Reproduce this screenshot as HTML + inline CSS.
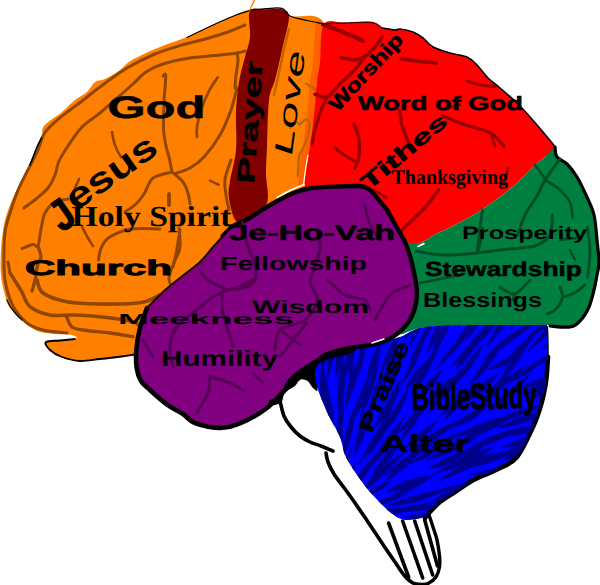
<!DOCTYPE html>
<html>
<head>
<meta charset="utf-8">
<title>Brain</title>
<style>
html,body{margin:0;padding:0;background:#fff;}
body{width:600px;height:585px;overflow:hidden;font-family:"Liberation Sans",sans-serif;}
svg{display:block;}
text{font-family:"Liberation Sans",sans-serif;fill:#000;text-rendering:geometricPrecision;}
.b{font-weight:bold;}
.s{font-family:"Liberation Serif",serif;}
.k{stroke:#000;stroke-width:0.5;}
.k2{stroke:#000;stroke-width:0.9;}
</style>
</head>
<body>
<svg width="600" height="585" viewBox="0 0 600 585">
<rect width="600" height="585" fill="#fff"/>
<!-- brain stem -->
<path d="M283.0,392.0 L280.0,402.0 L285.0,417.0 L295.0,432.0 L310.0,444.0 L326.0,453.0 L328.0,462.0 L334.0,474.0 L345.0,489.0 L365.0,517.5 L385.0,547.5 L404.0,575.0 L418.0,584.0 L428.0,583.0 L437.0,575.0 L439.0,560.0 L437.0,540.0 L430.0,517.0 L400.0,500.0 L350.0,440.0 L317.0,390.0 L300.0,380.0 Z" fill="#fff"/>
<path d="M280.0,401.0 C280.7,403.5 282.2,411.7 284.0,416.0 C285.8,420.3 288.3,423.7 291.0,427.0 C293.7,430.3 296.8,433.5 300.0,436.0 C303.2,438.5 306.5,440.3 310.0,442.0 C313.5,443.7 317.2,444.5 321.0,446.0 C324.8,447.5 331.0,450.2 333.0,451.0" fill="none" stroke="#000" stroke-width="3.6" stroke-linecap="round" stroke-linejoin="round" />
<path d="M326.0,453.0 C326.3,454.5 326.7,458.5 328.0,462.0 C329.3,465.5 331.2,469.5 334.0,474.0 C336.8,478.5 341.5,484.2 345.0,489.0 C348.5,493.8 351.7,498.2 355.0,503.0 C358.3,507.8 361.7,512.6 365.0,517.5 C368.3,522.4 371.7,527.5 375.0,532.5 C378.3,537.5 381.7,542.6 385.0,547.5 C388.3,552.4 391.8,557.4 395.0,562.0 C398.2,566.6 401.2,571.6 404.0,575.0 C406.8,578.4 409.3,580.9 412.0,582.5 C414.7,584.1 418.7,584.2 420.0,584.5" fill="none" stroke="#000" stroke-width="3.6" stroke-linecap="round" stroke-linejoin="round" />
<path d="M420.0,584.5 C421.3,584.3 425.3,584.8 428.0,583.5 C430.7,582.2 434.1,579.8 436.0,577.0 C437.9,574.2 438.9,570.5 439.5,567.0 C440.1,563.5 439.9,560.5 439.5,556.0 C439.1,551.5 438.1,544.8 437.0,540.0 C435.9,535.2 434.3,531.2 433.0,527.0 C431.7,522.8 429.7,517.0 429.0,515.0" fill="none" stroke="#000" stroke-width="3.4" stroke-linecap="round" stroke-linejoin="round" />
<path d="M388.6,523.0 C391.9,532.0 405.3,568.0 408.6,577.0" fill="none" stroke="#000" stroke-width="3.6" stroke-linecap="round" stroke-linejoin="round" />
<path d="M402.6,521.0 C406.0,530.5 419.4,568.5 422.7,578.0" fill="none" stroke="#000" stroke-width="3.6" stroke-linecap="round" stroke-linejoin="round" />
<path d="M414.7,521.0 C417.7,530.0 429.7,566.0 432.7,575.0" fill="none" stroke="#000" stroke-width="3.6" stroke-linecap="round" stroke-linejoin="round" />
<path d="M424.7,520.0 C426.8,527.7 435.4,558.3 437.5,566.0" fill="none" stroke="#000" stroke-width="3.6" stroke-linecap="round" stroke-linejoin="round" />
<!-- orange -->
<path d="M250.0,10.0 C242.2,11.0 241.3,12.5 235.0,15.0 C228.7,17.5 220.0,21.3 212.0,25.0 C204.0,28.7 195.7,33.3 187.0,37.0 C178.3,40.7 169.2,43.2 160.0,47.0 C150.8,50.8 138.7,56.2 132.0,60.0 C125.3,63.8 124.5,66.8 120.0,70.0 C115.5,73.2 109.2,77.0 105.0,79.0 C100.8,81.0 98.0,79.8 95.0,82.0 C92.0,84.2 90.3,89.0 87.0,92.0 C83.7,95.0 79.2,96.7 75.0,100.0 C70.8,103.3 67.2,107.7 62.0,112.0 C56.8,116.3 47.3,121.8 44.0,126.0 C40.7,130.2 43.2,133.5 42.0,137.0 C40.8,140.5 39.0,142.3 37.0,147.0 C35.0,151.7 33.0,158.7 30.0,165.0 C27.0,171.3 22.3,178.3 19.0,185.0 C15.7,191.7 12.5,198.3 10.0,205.0 C7.5,211.7 5.5,217.5 4.0,225.0 C2.5,232.5 1.5,241.7 1.0,250.0 C0.5,258.3 0.3,267.5 1.0,275.0 C1.7,282.5 3.5,289.5 5.0,295.0 C6.5,300.5 7.2,303.8 10.0,308.0 C12.8,312.2 17.5,316.2 22.0,320.0 C26.5,323.8 31.5,328.7 37.0,331.0 C42.5,333.3 49.2,333.3 55.0,334.0 C60.8,334.7 68.7,334.2 72.0,335.0 C75.3,335.8 79.3,337.8 75.0,339.0 C70.7,340.2 50.2,340.2 46.0,342.0 C41.8,343.8 47.3,347.5 50.0,350.0 C52.7,352.5 57.0,355.2 62.0,357.0 C67.0,358.8 73.7,360.7 80.0,361.0 C86.3,361.3 92.5,359.8 100.0,359.0 C107.5,358.2 118.8,356.8 125.0,356.0 C131.2,355.2 134.5,358.3 137.0,354.0 C139.5,349.7 138.3,337.7 140.0,330.0 C141.7,322.3 143.2,314.3 147.0,308.0 C150.8,301.7 157.5,297.0 163.0,292.0 C168.5,287.0 173.8,283.0 180.0,278.0 C186.2,273.0 194.3,267.3 200.0,262.0 C205.7,256.7 208.8,251.8 214.0,246.0 C219.2,240.2 225.3,231.5 231.0,227.0 C236.7,222.5 242.8,221.8 248.0,219.0 C253.2,216.2 256.8,213.2 262.0,210.0 C267.2,206.8 273.3,203.2 279.0,200.0 C284.7,196.8 290.5,193.3 296.0,191.0 C301.5,188.7 308.3,201.2 312.0,186.0 C315.7,170.8 316.0,127.0 318.0,100.0 C320.0,73.0 328.7,38.0 324.0,24.0 C319.3,10.0 297.0,18.5 290.0,16.0 C283.0,13.5 288.7,10.0 282.0,9.0 C275.3,8.0 257.8,9.0 250.0,10.0 Z" fill="#ff8000"/>
<path d="M75.0,339.0 C72.5,339.2 64.8,340.0 60.0,340.5 C55.2,341.0 47.7,340.4 46.0,342.0 C44.3,343.6 47.3,347.5 50.0,350.0 C52.7,352.5 57.0,355.2 62.0,357.0 C67.0,358.8 73.7,360.7 80.0,361.0 C86.3,361.3 92.5,359.8 100.0,359.0 C107.5,358.2 118.8,356.8 125.0,356.0 C131.2,355.2 135.0,354.3 137.0,354.0" fill="none" stroke="#000" stroke-width="1.8" stroke-linecap="round" stroke-linejoin="round" />
<path d="M245.0,25.0 C242.2,26.2 234.0,29.8 228.0,32.0 C222.0,34.2 216.7,35.8 209.0,38.0 C201.3,40.2 191.0,42.3 182.0,45.0 C173.0,47.7 164.2,50.2 155.0,54.0 C145.8,57.8 136.2,62.5 127.0,68.0 C117.8,73.5 107.5,81.5 100.0,87.0 C92.5,92.5 87.0,97.2 82.0,101.0 C77.0,104.8 74.5,106.5 70.0,110.0 C65.5,113.5 59.3,118.0 55.0,122.0 C50.7,126.0 46.8,129.3 44.0,134.0 C41.2,138.7 40.3,144.7 38.0,150.0 C35.7,155.3 33.2,159.7 30.0,166.0 C26.8,172.3 22.2,180.7 19.0,188.0 C15.8,195.3 13.2,203.2 11.0,210.0 C8.8,216.8 6.7,222.2 5.5,229.0 C4.3,235.8 4.1,242.5 4.0,251.0 C3.9,259.5 3.5,270.8 5.0,280.0 C6.5,289.2 9.3,298.8 13.0,306.0 C16.7,313.2 22.0,319.0 27.0,323.0 C32.0,327.0 36.3,328.3 43.0,330.0 C49.7,331.7 63.0,332.5 67.0,333.0" fill="none" stroke="#904600" stroke-width="3.0" stroke-linecap="round" stroke-linejoin="round" />
<path d="M245.0,51.0 C243.7,51.3 242.0,52.2 237.0,53.0 C232.0,53.8 222.8,54.7 215.0,55.5 C207.2,56.3 198.7,56.6 190.0,58.0 C181.3,59.4 170.3,61.7 163.0,64.0 C155.7,66.3 151.0,68.7 146.0,72.0 C141.0,75.3 138.0,79.5 133.0,84.0 C128.0,88.5 121.5,94.2 116.0,99.0 C110.5,103.8 105.7,108.3 100.0,113.0 C94.3,117.7 87.3,121.5 82.0,127.0 C76.7,132.5 71.8,140.3 68.0,146.0 C64.2,151.7 61.2,156.2 59.0,161.0 C56.8,165.8 56.8,170.5 55.0,175.0 C53.2,179.5 51.2,184.0 48.0,188.0 C44.8,192.0 40.0,195.7 36.0,199.0 C32.0,202.3 26.0,206.5 24.0,208.0" fill="none" stroke="#904600" stroke-width="3.0" stroke-linecap="round" stroke-linejoin="round" />
<path d="M237.0,53.0 C237.2,54.3 238.2,57.3 238.0,61.0 C237.8,64.7 236.5,70.5 236.0,75.0 C235.5,79.5 235.2,85.8 235.0,88.0" fill="none" stroke="#904600" stroke-width="3.0" stroke-linecap="round" stroke-linejoin="round" />
<path d="M163.0,76.0 C163.4,75.8 165.3,72.7 165.6,74.7 C165.9,76.7 165.3,83.5 165.0,88.0 C164.7,92.5 164.2,95.2 164.0,102.0 C163.8,108.8 163.2,121.7 163.5,129.0 C163.8,136.3 165.1,141.3 166.0,146.0 C166.9,150.7 168.0,152.7 169.0,157.0 C170.0,161.3 171.5,169.5 172.0,172.0" fill="none" stroke="#904600" stroke-width="3.0" stroke-linecap="round" stroke-linejoin="round" />
<path d="M217.6,77.4 C216.2,79.7 211.8,85.6 209.0,91.0 C206.2,96.4 203.0,104.0 201.0,110.0 C199.0,116.0 197.7,122.5 197.0,127.0 C196.3,131.5 197.0,135.3 197.0,137.0" fill="none" stroke="#904600" stroke-width="2.7" stroke-linecap="round" stroke-linejoin="round" />
<path d="M237.0,88.0 C236.0,91.7 233.8,102.2 231.0,110.0 C228.2,117.8 224.5,127.2 220.0,135.0 C215.5,142.8 209.0,151.5 204.0,157.0 C199.0,162.5 194.9,165.2 190.0,168.0 C185.1,170.8 177.2,172.8 174.7,173.8" fill="none" stroke="#904600" stroke-width="3.0" stroke-linecap="round" stroke-linejoin="round" />
<path d="M112.0,132.0 C112.3,133.7 113.2,139.0 114.0,142.0 C114.8,145.0 115.8,147.5 117.0,150.0 C118.2,152.5 120.3,155.8 121.0,157.0" fill="none" stroke="#904600" stroke-width="2.7" stroke-linecap="round" stroke-linejoin="round" />
<path d="M79.0,179.0 C78.2,181.0 75.1,187.2 74.0,191.0 C72.9,194.8 72.8,200.2 72.5,202.0" fill="none" stroke="#904600" stroke-width="2.7" stroke-linecap="round" stroke-linejoin="round" />
<path d="M22.0,248.5 C23.8,247.8 30.3,244.9 33.0,244.5 C35.7,244.1 36.7,248.6 38.0,246.0 C39.3,243.4 39.8,234.5 41.0,229.0 C42.2,223.5 42.7,217.5 45.0,213.0 C47.3,208.5 51.2,204.3 55.0,202.0 C58.8,199.7 65.8,199.5 68.0,199.0" fill="none" stroke="#904600" stroke-width="3.0" stroke-linecap="round" stroke-linejoin="round" />
<path d="M38.0,246.0 C38.5,247.8 41.0,254.2 41.0,257.0 C41.0,259.8 39.0,259.2 38.0,263.0 C37.0,266.8 36.0,275.3 35.0,280.0 C34.0,284.7 32.5,289.2 32.0,291.0" fill="none" stroke="#904600" stroke-width="3.3" stroke-linecap="round" stroke-linejoin="round" />
<path d="M172.0,172.0 C168.8,173.0 157.6,174.5 153.0,178.0 C148.4,181.5 147.4,188.7 144.6,193.0 C141.8,197.3 139.3,200.8 136.0,204.0 C132.7,207.2 126.8,210.7 125.0,212.0" fill="none" stroke="#904600" stroke-width="3.0" stroke-linecap="round" stroke-linejoin="round" />
<path d="M172.0,172.0 C173.8,173.7 180.3,178.5 183.0,182.0 C185.7,185.5 186.8,189.3 188.0,193.0 C189.2,196.7 189.7,202.2 190.0,204.0" fill="none" stroke="#904600" stroke-width="3.0" stroke-linecap="round" stroke-linejoin="round" />
<path d="M169.0,194.0 C169.0,195.8 169.0,203.2 169.0,205.0" fill="none" stroke="#904600" stroke-width="3.9" stroke-linecap="round" stroke-linejoin="round" />
<path d="M160.0,229.0 C155.2,229.0 139.5,227.6 131.0,229.0 C122.5,230.4 114.0,234.3 109.0,237.6 C104.0,240.8 102.8,244.8 101.0,248.5 C99.2,252.2 98.9,258.1 98.5,260.0" fill="none" stroke="#904600" stroke-width="3.0" stroke-linecap="round" stroke-linejoin="round" />
<path d="M82.0,226.7 C83.0,228.6 86.2,234.8 88.0,238.0 C89.8,241.2 92.2,244.7 93.0,246.0" fill="none" stroke="#904600" stroke-width="2.7" stroke-linecap="round" stroke-linejoin="round" />
<path d="M179.0,228.5 C179.2,231.7 180.7,242.2 180.0,247.6 C179.3,253.0 176.5,256.0 174.7,261.0 C172.9,266.0 169.4,273.2 169.0,277.7 C168.6,282.2 171.5,286.3 172.0,288.0" fill="none" stroke="#904600" stroke-width="3.0" stroke-linecap="round" stroke-linejoin="round" />
<path d="M231.0,160.0 C230.0,163.2 225.8,173.2 225.0,179.0 C224.2,184.8 225.3,189.8 226.0,195.0 C226.7,200.2 228.5,207.5 229.0,210.0" fill="none" stroke="#904600" stroke-width="3.0" stroke-linecap="round" stroke-linejoin="round" />
<path d="M210.0,180.6 C211.4,181.3 217.1,184.0 218.5,184.7" fill="none" stroke="#904600" stroke-width="2.7" stroke-linecap="round" stroke-linejoin="round" />
<path d="M180.0,230.0 C179.4,233.3 177.9,243.9 176.7,250.0 C175.5,256.1 173.6,263.9 173.0,266.7" fill="none" stroke="#904600" stroke-width="3.0" stroke-linecap="round" stroke-linejoin="round" />
<path d="M37.0,280.0 C38.0,282.2 38.0,289.4 43.0,293.0 C48.0,296.6 57.5,299.9 67.0,301.7 C76.5,303.5 87.8,303.8 100.0,304.0 C112.2,304.2 130.0,304.2 140.0,302.7 C150.0,301.2 156.7,296.3 160.0,295.0" fill="none" stroke="#904600" stroke-width="3.6" stroke-linecap="round" stroke-linejoin="round" />
<path d="M10.0,273.0 C11.2,274.8 15.1,280.9 17.0,284.0 C18.9,287.1 19.5,287.9 21.7,291.7 C23.9,295.5 25.3,302.8 30.0,306.7 C34.7,310.6 42.8,313.6 50.0,315.0 C57.2,316.4 64.7,314.7 73.0,315.0 C81.3,315.3 90.0,315.6 100.0,316.7 C110.0,317.8 126.3,320.0 133.0,321.7 C139.7,323.4 138.8,326.1 140.0,327.0" fill="none" stroke="#904600" stroke-width="3.6" stroke-linecap="round" stroke-linejoin="round" />
<path d="M66.7,316.7 C67.5,318.4 69.0,324.5 71.7,326.7 C74.4,328.9 76.6,328.9 83.0,330.0 C89.4,331.1 101.7,331.9 110.0,333.0 C118.3,334.1 129.2,336.1 133.0,336.7" fill="none" stroke="#904600" stroke-width="3.3" stroke-linecap="round" stroke-linejoin="round" />
<path d="M8.0,262.0 C8.3,263.8 9.7,271.2 10.0,273.0" fill="none" stroke="#904600" stroke-width="3.0" stroke-linecap="round" stroke-linejoin="round" />
<path d="M319.0,24.0 C318.6,30.3 317.4,52.3 316.5,62.0 C315.6,71.7 314.5,73.2 313.5,82.0 C312.5,90.8 311.7,104.3 310.5,115.0 C309.3,125.7 307.8,136.8 306.5,146.0 C305.2,155.2 303.3,163.0 302.5,170.0 C301.7,177.0 301.7,185.0 301.5,188.0" fill="none" stroke="#ff5a00" stroke-width="7" stroke-linecap="round" stroke-linejoin="round" stroke-opacity="0.85"/>
<path d="M289.0,29.0 C288.2,32.4 285.7,42.1 284.0,49.4 C282.3,56.7 280.7,65.4 279.0,73.0 C277.3,80.6 274.8,91.3 274.0,95.0" fill="none" stroke="#c46200" stroke-width="2.4" stroke-linecap="round" stroke-linejoin="round" />
<path d="M299.4,124.7 C300.5,123.8 304.3,119.5 306.0,119.5 C307.7,119.5 309.7,121.0 309.7,124.7 C309.7,128.4 307.7,136.7 306.0,141.8 C304.3,146.9 300.8,149.7 299.4,155.4 C298.0,161.1 298.0,172.6 297.7,176.0" fill="none" stroke="#c46200" stroke-width="2.4" stroke-linecap="round" stroke-linejoin="round" />
<path d="M306.0,83.6 C307.2,84.3 310.7,86.3 313.0,88.0 C315.3,89.7 318.8,93.0 320.0,94.0" fill="none" stroke="#c46200" stroke-width="2.2" stroke-linecap="round" stroke-linejoin="round" />
<path d="M290.0,128.0 C291.0,127.0 294.4,122.5 296.0,122.0 C297.6,121.5 298.8,124.2 299.4,124.7" fill="none" stroke="#c46200" stroke-width="2" stroke-linecap="round" stroke-linejoin="round" />
<!-- dark red -->
<path d="M250.0,11.0 C252.7,6.4 260.7,9.8 266.0,9.5 C271.3,9.2 278.2,8.2 282.0,9.5 C285.8,10.8 289.0,10.2 289.0,17.0 C289.0,23.8 284.3,39.5 282.0,50.0 C279.7,60.5 277.2,71.7 275.0,80.0 C272.8,88.3 270.3,89.0 269.0,100.0 C267.7,111.0 267.5,133.7 267.0,146.0 C266.5,158.3 266.0,164.5 266.0,174.0 C266.0,183.5 269.7,195.7 267.0,203.0 C264.3,210.3 255.2,215.0 250.0,218.0 C244.8,221.0 239.5,224.3 236.0,221.0 C232.5,217.7 230.0,204.7 229.0,198.0 C228.0,191.3 228.8,189.0 230.0,181.0 C231.2,173.0 235.0,161.5 236.0,150.0 C237.0,138.5 235.5,123.3 236.0,112.0 C236.5,100.7 237.5,91.2 239.0,82.0 C240.5,72.8 243.2,64.5 245.0,57.0 C246.8,49.5 249.2,44.7 250.0,37.0 C250.8,29.3 247.3,15.6 250.0,11.0 Z" fill="#800000"/>
<!-- red -->
<path d="M324.0,24.0 C328.2,17.5 337.0,23.3 345.0,23.0 C353.0,22.7 365.8,21.2 372.0,22.0 C378.2,22.8 378.2,26.7 382.0,28.0 C385.8,29.3 392.0,29.8 395.0,30.0 C398.0,30.2 397.0,28.7 400.0,29.0 C403.0,29.3 409.2,30.5 413.0,32.0 C416.8,33.5 419.7,35.5 423.0,38.0 C426.3,40.5 428.5,44.5 433.0,47.0 C437.5,49.5 444.3,51.3 450.0,53.0 C455.7,54.7 462.5,55.0 467.0,57.0 C471.5,59.0 473.5,61.5 477.0,65.0 C480.5,68.5 484.2,74.2 488.0,78.0 C491.8,81.8 495.2,83.8 500.0,88.0 C504.8,92.2 512.0,98.2 517.0,103.0 C522.0,107.8 525.7,112.2 530.0,117.0 C534.3,121.8 538.8,127.0 543.0,132.0 C547.2,137.0 554.7,142.8 555.0,147.0 C555.3,151.2 548.2,154.1 545.0,157.0 C541.8,159.9 539.8,161.0 536.0,164.5 C532.2,168.0 526.7,173.6 522.0,178.0 C517.3,182.4 513.0,186.7 507.7,191.0 C502.4,195.3 496.0,199.8 490.0,204.0 C484.0,208.2 478.5,212.1 471.8,216.0 C465.1,219.9 456.0,224.5 450.0,227.5 C444.0,230.5 441.0,231.4 436.0,234.0 C431.0,236.6 425.2,241.2 420.0,243.0 C414.8,244.8 408.3,245.5 405.0,245.0 C401.7,244.5 402.5,245.0 400.0,240.0 C397.5,235.0 394.5,222.5 390.0,215.0 C385.5,207.5 378.0,199.2 373.0,195.0 C368.0,190.8 365.5,191.5 360.0,190.0 C354.5,188.5 348.0,186.7 340.0,186.0 C332.0,185.3 317.8,186.0 312.0,186.0 C306.2,186.0 306.0,188.7 305.0,186.0 C304.0,183.3 305.2,176.7 306.0,170.0 C306.8,163.3 308.7,155.2 310.0,146.0 C311.3,136.8 312.8,125.7 314.0,115.0 C315.2,104.3 316.0,90.8 317.0,82.0 C318.0,73.2 318.8,71.7 320.0,62.0 C321.2,52.3 319.8,30.5 324.0,24.0 Z" fill="#ff0000"/>
<path d="M382.0,28.0 C384.2,28.3 392.0,29.8 395.0,30.0 C398.0,30.2 397.0,28.7 400.0,29.0 C403.0,29.3 409.2,30.5 413.0,32.0 C416.8,33.5 419.7,35.5 423.0,38.0 C426.3,40.5 428.5,44.5 433.0,47.0 C437.5,49.5 444.3,51.3 450.0,53.0 C455.7,54.7 462.5,55.0 467.0,57.0 C471.5,59.0 473.5,61.5 477.0,65.0 C480.5,68.5 484.2,74.2 488.0,78.0 C491.8,81.8 495.2,83.8 500.0,88.0 C504.8,92.2 512.0,98.2 517.0,103.0 C522.0,107.8 525.7,112.2 530.0,117.0 C534.3,121.8 538.8,127.0 543.0,132.0 C547.2,137.0 553.0,144.5 555.0,147.0" fill="none" stroke="#000" stroke-width="1.6" stroke-linecap="round" stroke-linejoin="round" />
<path d="M323.0,24.6 C326.0,25.7 335.7,29.3 341.0,31.4 C346.3,33.5 351.0,35.4 354.7,37.0 C358.4,38.6 361.6,40.3 363.0,41.0" fill="none" stroke="#990000" stroke-width="4.2" stroke-linecap="round" stroke-linejoin="round" />
<path d="M341.0,57.4 C343.3,57.8 350.6,60.2 354.7,60.0 C358.8,59.8 362.0,58.5 365.6,56.0 C369.2,53.5 373.9,48.2 376.6,45.0 C379.3,41.8 381.1,38.3 382.0,37.0" fill="none" stroke="#990000" stroke-width="3.6" stroke-linecap="round" stroke-linejoin="round" />
<path d="M315.0,94.3 C317.0,94.8 323.2,98.4 327.0,97.0 C330.8,95.6 333.4,90.5 338.0,86.0 C342.6,81.5 350.1,74.7 354.7,69.7 C359.3,64.7 363.8,58.3 365.6,56.0" fill="none" stroke="#990000" stroke-width="3.6" stroke-linecap="round" stroke-linejoin="round" />
<path d="M327.0,97.0 C326.2,98.8 323.8,103.4 322.0,108.0 C320.2,112.6 318.1,118.5 316.4,124.4 C314.7,130.3 312.7,140.3 312.0,143.5" fill="none" stroke="#990000" stroke-width="3.4" stroke-linecap="round" stroke-linejoin="round" />
<path d="M401.0,58.8 C404.2,59.2 414.1,60.8 420.0,61.5 C425.9,62.2 433.9,62.8 436.7,63.0" fill="none" stroke="#990000" stroke-width="3.4" stroke-linecap="round" stroke-linejoin="round" />
<path d="M354.0,124.0 C354.8,126.3 358.0,132.5 358.8,138.0 C359.6,143.5 359.5,152.0 358.8,157.0 C358.1,162.0 355.4,166.2 354.7,168.0" fill="none" stroke="#990000" stroke-width="3.4" stroke-linecap="round" stroke-linejoin="round" />
<path d="M335.0,148.0 C336.8,149.3 342.5,153.7 346.0,156.0 C349.5,158.3 354.3,161.0 356.0,162.0" fill="none" stroke="#990000" stroke-width="3.1" stroke-linecap="round" stroke-linejoin="round" />
<path d="M399.6,111.0 C400.0,113.3 400.8,120.5 402.0,125.0 C403.2,129.5 405.0,133.8 406.7,138.0 C408.4,142.2 411.1,148.0 412.0,150.0" fill="none" stroke="#990000" stroke-width="3.4" stroke-linecap="round" stroke-linejoin="round" />
<path d="M443.0,116.0 C446.6,117.5 456.7,121.9 464.6,124.7 C472.5,127.5 484.1,129.4 490.6,133.0 C497.1,136.6 501.4,143.8 503.6,146.0" fill="none" stroke="#990000" stroke-width="3.4" stroke-linecap="round" stroke-linejoin="round" />
<path d="M490.6,133.0 C491.3,135.2 494.3,143.8 495.0,146.0" fill="none" stroke="#990000" stroke-width="2.8" stroke-linecap="round" stroke-linejoin="round" />
<path d="M438.6,189.7 C436.4,192.6 430.7,201.3 425.6,207.0 C420.5,212.7 412.3,219.7 408.0,224.0 C403.7,228.3 401.0,231.5 399.6,233.0" fill="none" stroke="#990000" stroke-width="3.4" stroke-linecap="round" stroke-linejoin="round" />
<path d="M508.0,168.0 C507.3,170.8 504.3,182.2 503.6,185.0" fill="none" stroke="#990000" stroke-width="2.8" stroke-linecap="round" stroke-linejoin="round" />
<path d="M373.6,189.7 C375.8,191.1 384.4,196.6 386.6,198.0" fill="none" stroke="#990000" stroke-width="2.8" stroke-linecap="round" stroke-linejoin="round" />
<path d="M460.0,105.0 C457.9,105.5 449.8,107.5 447.7,108.0" fill="none" stroke="#990000" stroke-width="2.8" stroke-linecap="round" stroke-linejoin="round" />
<path d="M467.0,81.0 C469.3,81.7 476.3,84.1 481.0,85.0 C485.7,85.9 492.7,86.2 495.0,86.5" fill="none" stroke="#990000" stroke-width="3.1" stroke-linecap="round" stroke-linejoin="round" />
<!-- green -->
<path d="M555.0,147.0 C557.0,147.0 555.0,154.2 557.0,157.0 C559.0,159.8 563.7,160.7 567.0,164.0 C570.3,167.3 573.8,171.8 577.0,177.0 C580.2,182.2 583.2,188.7 586.0,195.0 C588.8,201.3 592.2,207.5 594.0,215.0 C595.8,222.5 596.2,232.2 597.0,240.0 C597.8,247.8 599.0,256.2 599.0,262.0 C599.0,267.8 597.8,270.3 597.0,275.0 C596.2,279.7 595.3,284.7 594.0,290.0 C592.7,295.3 591.3,301.8 589.0,307.0 C586.7,312.2 583.2,317.7 580.0,321.0 C576.8,324.3 575.0,326.2 570.0,327.0 C565.0,327.8 554.0,326.3 550.0,326.0 C546.0,325.7 562.7,325.0 546.0,325.0 C529.3,325.0 471.0,325.5 450.0,326.0 C429.0,326.5 428.3,326.7 420.0,328.0 C411.7,329.3 401.7,335.7 400.0,334.0 C398.3,332.3 407.2,324.5 410.0,318.0 C412.8,311.5 416.5,302.7 417.0,295.0 C417.5,287.3 415.0,280.3 413.0,272.0 C411.0,263.7 403.8,249.8 405.0,245.0 C406.2,240.2 414.8,244.8 420.0,243.0 C425.2,241.2 431.0,236.6 436.0,234.0 C441.0,231.4 444.0,230.5 450.0,227.5 C456.0,224.5 465.1,219.9 471.8,216.0 C478.5,212.1 484.0,208.2 490.0,204.0 C496.0,199.8 502.4,195.3 507.7,191.0 C513.0,186.7 517.3,182.4 522.0,178.0 C526.7,173.6 532.2,168.0 536.0,164.5 C539.8,161.0 541.8,159.9 545.0,157.0 C548.2,154.1 553.0,147.0 555.0,147.0 Z" fill="#008040"/>
<path d="M555.0,147.0 C555.3,148.7 555.0,154.2 557.0,157.0 C559.0,159.8 563.7,160.7 567.0,164.0 C570.3,167.3 573.8,171.8 577.0,177.0 C580.2,182.2 583.2,188.7 586.0,195.0 C588.8,201.3 592.2,207.5 594.0,215.0 C595.8,222.5 596.2,232.2 597.0,240.0 C597.8,247.8 599.0,256.2 599.0,262.0 C599.0,267.8 597.8,270.3 597.0,275.0 C596.2,279.7 595.3,284.7 594.0,290.0 C592.7,295.3 591.3,301.8 589.0,307.0 C586.7,312.2 583.2,317.7 580.0,321.0 C576.8,324.3 575.0,326.2 570.0,327.0 C565.0,327.8 553.3,326.2 550.0,326.0" fill="none" stroke="#000" stroke-width="3.2" stroke-linecap="round" stroke-linejoin="round" />
<path d="M560.0,159.0 C557.5,162.5 548.8,174.0 545.0,180.0 C541.2,186.0 540.8,189.2 537.5,195.0 C534.2,200.8 528.3,208.3 525.0,215.0 C521.7,221.7 518.8,231.7 517.5,235.0" fill="none" stroke="#004d26" stroke-width="3.0" stroke-linecap="round" stroke-linejoin="round" />
<path d="M545.0,180.0 C547.5,181.7 555.8,186.2 560.0,190.0 C564.2,193.8 567.9,197.9 570.0,202.5 C572.1,207.1 572.1,215.0 572.5,217.5" fill="none" stroke="#004d26" stroke-width="2.8" stroke-linecap="round" stroke-linejoin="round" />
<path d="M535.0,165.0 C536.2,166.7 540.8,172.5 542.5,175.0 C544.2,177.5 544.6,179.2 545.0,180.0" fill="none" stroke="#004d26" stroke-width="2.5" stroke-linecap="round" stroke-linejoin="round" />
<path d="M482.5,210.0 C482.1,212.9 480.8,220.8 480.0,227.5 C479.2,234.2 477.9,246.2 477.5,250.0" fill="none" stroke="#004d26" stroke-width="2.8" stroke-linecap="round" stroke-linejoin="round" />
<path d="M416.0,251.0 C420.5,251.7 432.9,254.7 443.0,255.0 C453.1,255.3 467.2,253.8 476.7,253.0 C486.2,252.2 491.9,250.9 500.0,250.0 C508.1,249.1 518.8,248.3 525.0,247.5 C531.2,246.7 533.3,247.1 537.5,245.0 C541.7,242.9 547.5,240.0 550.0,235.0 C552.5,230.0 552.1,218.3 552.5,215.0" fill="none" stroke="#004d26" stroke-width="3.0" stroke-linecap="round" stroke-linejoin="round" />
<path d="M476.7,253.0 C477.2,251.7 478.9,249.2 480.0,245.0 C481.1,240.8 482.5,230.8 483.0,228.0" fill="none" stroke="#004d26" stroke-width="2.5" stroke-linecap="round" stroke-linejoin="round" />
<path d="M587.5,227.5 C587.9,231.7 590.0,244.2 590.0,252.5 C590.0,260.8 587.9,273.3 587.5,277.5" fill="none" stroke="#004d26" stroke-width="2.8" stroke-linecap="round" stroke-linejoin="round" />
<path d="M560.0,240.0 C563.3,239.6 576.7,237.9 580.0,237.5" fill="none" stroke="#004d26" stroke-width="2.5" stroke-linecap="round" stroke-linejoin="round" />
<path d="M570.0,250.0 C570.8,251.7 574.2,258.3 575.0,260.0" fill="none" stroke="#004d26" stroke-width="2.5" stroke-linecap="round" stroke-linejoin="round" />
<path d="M500.0,287.5 C502.5,288.5 510.0,294.9 515.0,293.7 C520.0,292.4 527.5,282.3 530.0,280.0" fill="none" stroke="#004d26" stroke-width="3.0" stroke-linecap="round" stroke-linejoin="round" />
<path d="M515.0,293.7 C514.6,294.8 512.9,298.9 512.5,300.0" fill="none" stroke="#004d26" stroke-width="2.5" stroke-linecap="round" stroke-linejoin="round" />
<path d="M560.0,287.5 C560.4,289.2 563.3,293.8 562.5,297.5 C561.7,301.2 557.5,307.3 555.0,310.0 C552.5,312.7 548.8,313.1 547.5,313.7" fill="none" stroke="#004d26" stroke-width="3.0" stroke-linecap="round" stroke-linejoin="round" />
<path d="M562.5,297.5 C564.6,296.7 571.2,294.6 575.0,292.5 C578.8,290.4 583.3,286.2 585.0,285.0" fill="none" stroke="#004d26" stroke-width="2.8" stroke-linecap="round" stroke-linejoin="round" />
<path d="M420.0,283.0 C423.3,282.3 433.3,280.3 440.0,279.0 C446.7,277.7 456.7,275.7 460.0,275.0" fill="none" stroke="#004d26" stroke-width="2.5" stroke-linecap="round" stroke-linejoin="round" />
<!-- blue -->
<path d="M312.0,368.0 C314.2,366.0 318.7,359.0 325.0,356.0 C331.3,353.0 340.8,352.3 350.0,350.0 C359.2,347.7 371.7,344.2 380.0,342.0 C388.3,339.8 393.3,339.3 400.0,337.0 C406.7,334.7 411.7,329.9 420.0,328.0 C428.3,326.1 436.7,326.0 450.0,325.5 C463.3,325.0 483.8,325.1 500.0,325.0 C516.2,324.9 539.2,325.0 547.0,325.0 L547.0,325.0 C547.1,327.5 547.4,334.7 547.6,340.0 C547.8,345.3 548.1,351.7 548.0,357.0 C547.9,362.3 547.4,367.3 547.0,372.0 C546.6,376.7 546.5,379.5 545.5,385.0 C544.5,390.5 543.1,398.0 541.0,405.0 C538.9,412.0 537.0,418.3 533.0,427.0 C529.0,435.7 522.5,450.2 517.0,457.0 C511.5,463.8 506.2,464.7 500.0,468.0 C493.8,471.3 485.0,474.7 480.0,477.0 C475.0,479.3 474.2,479.5 470.0,482.0 C465.8,484.5 460.0,488.7 455.0,492.0 C450.0,495.3 444.2,498.7 440.0,502.0 C435.8,505.3 432.5,509.5 430.0,512.0 C427.5,514.5 425.8,516.2 425.0,517.0 L425.0,517.0 C421.7,517.5 410.8,520.8 405.0,520.0 C399.2,519.2 395.8,516.7 390.0,512.0 C384.2,507.3 375.8,498.7 370.0,492.0 C364.2,485.3 359.2,478.2 355.0,472.0 C350.8,465.8 347.5,460.8 345.0,455.0 C342.5,449.2 343.0,444.2 340.0,437.0 C337.0,429.8 330.8,420.3 327.0,412.0 C323.2,403.7 319.5,394.3 317.0,387.0 C314.5,379.7 312.8,371.2 312.0,368.0 Z" fill="#0000ff"/>
<path d="M547.3,327.0 C547.4,329.2 547.7,335.0 547.8,340.0 C547.9,345.0 548.0,354.2 548.0,357.0" fill="none" stroke="#000" stroke-width="1.6" stroke-linecap="round" stroke-linejoin="round" />
<path d="M548.0,357.0 C547.8,359.5 547.4,367.3 547.0,372.0 C546.6,376.7 546.5,379.5 545.5,385.0 C544.5,390.5 543.1,398.0 541.0,405.0 C538.9,412.0 537.0,418.3 533.0,427.0 C529.0,435.7 522.5,450.2 517.0,457.0 C511.5,463.8 506.2,464.7 500.0,468.0 C493.8,471.3 485.0,474.7 480.0,477.0 C475.0,479.3 474.2,479.5 470.0,482.0 C465.8,484.5 460.0,488.7 455.0,492.0 C450.0,495.3 444.2,498.7 440.0,502.0 C435.8,505.3 432.5,509.3 430.0,512.0 C427.5,514.7 425.8,517.0 425.0,518.0" fill="none" stroke="#000" stroke-width="4.6" stroke-linecap="round" stroke-linejoin="round" />
<clipPath id="cb"><path d="M312.0,368.0 C314.2,366.0 318.7,359.0 325.0,356.0 C331.3,353.0 340.8,352.3 350.0,350.0 C359.2,347.7 371.7,344.2 380.0,342.0 C388.3,339.8 393.3,339.3 400.0,337.0 C406.7,334.7 411.7,329.9 420.0,328.0 C428.3,326.1 436.7,326.0 450.0,325.5 C463.3,325.0 483.8,325.1 500.0,325.0 C516.2,324.9 539.2,325.0 547.0,325.0 L547.0,325.0 C547.1,327.5 547.4,334.7 547.6,340.0 C547.8,345.3 548.1,351.7 548.0,357.0 C547.9,362.3 547.4,367.3 547.0,372.0 C546.6,376.7 546.5,379.5 545.5,385.0 C544.5,390.5 543.1,398.0 541.0,405.0 C538.9,412.0 537.0,418.3 533.0,427.0 C529.0,435.7 522.5,450.2 517.0,457.0 C511.5,463.8 506.2,464.7 500.0,468.0 C493.8,471.3 485.0,474.7 480.0,477.0 C475.0,479.3 474.2,479.5 470.0,482.0 C465.8,484.5 460.0,488.7 455.0,492.0 C450.0,495.3 444.2,498.7 440.0,502.0 C435.8,505.3 432.5,509.5 430.0,512.0 C427.5,514.5 425.8,516.2 425.0,517.0 L425.0,517.0 C421.7,517.5 410.8,520.8 405.0,520.0 C399.2,519.2 395.8,516.7 390.0,512.0 C384.2,507.3 375.8,498.7 370.0,492.0 C364.2,485.3 359.2,478.2 355.0,472.0 C350.8,465.8 347.5,460.8 345.0,455.0 C342.5,449.2 343.0,444.2 340.0,437.0 C337.0,429.8 330.8,420.3 327.0,412.0 C323.2,403.7 319.5,394.3 317.0,387.0 C314.5,379.7 312.8,371.2 312.0,368.0 Z"/></clipPath>
<g clip-path="url(#cb)" fill="#00008b">
<path d="M319.2,485.1 Q320.6,455.6 309.0,428.4 Q308.5,457.8 319.2,485.1 Z"/>
<path d="M324.8,490.4 Q327.9,461.8 319.1,434.3 Q314.0,463.2 324.8,490.4 Z"/>
<path d="M330.1,489.4 Q343.8,459.1 342.9,425.9 Q333.8,457.1 330.1,489.4 Z"/>
<path d="M333.6,501.1 Q346.1,474.1 353.2,445.2 Q336.5,470.8 333.6,501.1 Z"/>
<path d="M335.1,504.5 Q352.9,486.0 356.4,460.6 Q341.8,480.7 335.1,504.5 Z"/>
<path d="M344.2,499.2 Q366.7,478.6 380.3,451.3 Q356.0,470.6 344.2,499.2 Z"/>
<path d="M353.8,498.9 Q383.2,479.2 405.2,451.6 Q374.0,469.3 353.8,498.9 Z"/>
<path d="M355.0,502.8 Q376.7,496.1 392.7,480.1 Q370.5,485.9 355.0,502.8 Z"/>
<path d="M344.5,515.4 Q377.4,509.8 406.7,494.0 Q373.8,499.4 344.5,515.4 Z"/>
<path d="M346.9,518.3 Q374.1,518.9 399.2,508.8 Q371.7,506.0 346.9,518.3 Z"/>
<path d="M365.0,517.9 Q391.2,518.4 415.3,507.7 Q388.5,504.8 365.0,517.9 Z"/>
<path d="M361.9,524.3 Q383.5,530.6 405.5,526.4 Q384.0,519.7 361.9,524.3 Z"/>
<path d="M317.3,461.0 Q316.5,429.1 303.6,399.9 Q303.6,432.0 317.3,461.0 Z"/>
<path d="M323.0,443.6 Q329.6,418.1 318.5,394.2 Q315.7,419.4 323.0,443.6 Z"/>
<path d="M330.9,446.1 Q338.8,419.1 328.7,392.9 Q325.6,419.6 330.9,446.1 Z"/>
<path d="M338.3,448.6 Q344.7,424.5 343.7,399.6 Q333.1,423.2 338.3,448.6 Z"/>
<path d="M342.6,460.3 Q355.3,433.3 355.9,403.5 Q342.7,430.4 342.6,460.3 Z"/>
<path d="M354.1,457.2 Q368.1,432.7 371.9,404.6 Q354.6,428.0 354.1,457.2 Z"/>
<path d="M357.2,466.0 Q380.8,442.4 391.3,410.7 Q371.5,436.6 357.2,466.0 Z"/>
<path d="M367.7,457.5 Q389.4,430.6 403.5,399.0 Q378.3,423.8 367.7,457.5 Z"/>
<path d="M365.7,471.8 Q392.3,448.3 405.2,415.3 Q381.2,440.6 365.7,471.8 Z"/>
<path d="M371.0,478.2 Q391.2,462.2 402.9,439.3 Q380.7,453.6 371.0,478.2 Z"/>
<path d="M382.0,477.4 Q411.8,462.4 436.8,440.5 Q405.4,453.0 382.0,477.4 Z"/>
<path d="M382.5,483.5 Q404.5,471.2 420.7,451.9 Q397.9,463.2 382.5,483.5 Z"/>
<path d="M385.6,491.9 Q409.9,491.4 428.6,475.8 Q404.9,477.8 385.6,491.9 Z"/>
<path d="M384.5,500.0 Q413.7,492.9 436.4,473.1 Q409.0,483.9 384.5,500.0 Z"/>
<path d="M384.2,506.7 Q419.5,504.7 450.5,487.9 Q415.9,492.1 384.2,506.7 Z"/>
<path d="M386.4,511.3 Q422.2,514.5 455.7,501.2 Q420.4,501.9 386.4,511.3 Z"/>
<path d="M401.7,517.7 Q433.2,522.7 463.1,511.3 Q431.7,508.2 401.7,517.7 Z"/>
<path d="M394.3,525.7 Q426.5,536.9 460.3,533.5 Q428.1,523.0 394.3,525.7 Z"/>
<path d="M397.1,532.0 Q423.3,539.9 449.9,533.3 Q423.6,526.8 397.1,532.0 Z"/>
<path d="M308.1,409.9 Q311.4,376.0 302.0,343.4 Q299.5,377.1 308.1,409.9 Z"/>
<path d="M315.2,421.9 Q314.8,388.2 300.0,357.9 Q301.4,391.4 315.2,421.9 Z"/>
<path d="M321.9,409.1 Q330.4,384.9 322.2,360.6 Q317.9,384.8 321.9,409.1 Z"/>
<path d="M328.8,417.0 Q332.1,395.4 325.3,374.7 Q318.7,396.5 328.8,417.0 Z"/>
<path d="M338.9,414.9 Q349.0,385.3 343.0,354.5 Q334.6,384.3 338.9,414.9 Z"/>
<path d="M345.0,408.4 Q359.1,384.3 360.4,356.3 Q345.2,380.1 345.0,408.4 Z"/>
<path d="M351.1,423.4 Q367.5,402.2 368.8,375.5 Q355.8,397.9 351.1,423.4 Z"/>
<path d="M359.4,422.9 Q373.9,391.5 380.2,357.5 Q363.5,388.2 359.4,422.9 Z"/>
<path d="M367.1,418.3 Q382.9,395.2 383.7,367.2 Q371.1,391.3 367.1,418.3 Z"/>
<path d="M372.0,432.5 Q389.4,411.1 402.2,386.7 Q380.9,405.6 372.0,432.5 Z"/>
<path d="M379.8,431.4 Q395.6,406.4 401.9,377.4 Q382.7,401.1 379.8,431.4 Z"/>
<path d="M391.0,426.2 Q403.4,408.4 409.8,387.6 Q393.4,403.5 391.0,426.2 Z"/>
<path d="M395.7,434.6 Q421.1,421.1 433.6,395.2 Q411.6,411.9 395.7,434.6 Z"/>
<path d="M399.8,442.1 Q417.3,424.8 425.8,401.7 Q408.1,418.9 399.8,442.1 Z"/>
<path d="M402.4,450.3 Q424.3,439.9 438.6,420.2 Q416.8,430.8 402.4,450.3 Z"/>
<path d="M408.9,454.0 Q438.1,440.7 462.0,419.3 Q430.5,429.1 408.9,454.0 Z"/>
<path d="M409.9,464.0 Q440.4,453.8 462.0,429.9 Q433.7,443.5 409.9,464.0 Z"/>
<path d="M425.5,460.3 Q454.8,454.5 478.6,436.4 Q449.1,441.8 425.5,460.3 Z"/>
<path d="M427.3,469.8 Q452.4,467.2 470.7,449.8 Q446.5,454.4 427.3,469.8 Z"/>
<path d="M434.8,473.3 Q469.1,467.7 496.2,446.0 Q463.1,454.1 434.8,473.3 Z"/>
<path d="M435.8,482.3 Q468.5,471.7 496.1,451.3 Q463.1,461.3 435.8,482.3 Z"/>
<path d="M431.6,492.9 Q463.4,489.8 494.1,481.0 Q461.5,479.8 431.6,492.9 Z"/>
<path d="M430.6,501.9 Q454.6,499.4 475.3,487.0 Q450.2,486.2 430.6,501.9 Z"/>
<path d="M441.7,506.8 Q473.0,513.3 504.3,506.5 Q472.9,499.9 441.7,506.8 Z"/>
<path d="M430.3,517.3 Q453.3,521.9 474.4,511.7 Q451.7,509.4 430.3,517.3 Z"/>
<path d="M442.9,523.6 Q471.5,527.8 499.5,520.4 Q470.8,515.0 442.9,523.6 Z"/>
<path d="M429.8,531.5 Q461.4,545.5 495.9,545.4 Q464.3,531.6 429.8,531.5 Z"/>
<path d="M304.1,373.9 Q305.6,349.8 299.3,326.5 Q293.1,351.0 304.1,373.9 Z"/>
<path d="M313.9,375.5 Q319.2,346.9 310.6,319.1 Q305.2,347.7 313.9,375.5 Z"/>
<path d="M320.6,372.3 Q332.5,351.8 328.3,328.4 Q320.6,349.7 320.6,372.3 Z"/>
<path d="M326.9,380.5 Q338.3,353.9 333.8,325.4 Q326.3,352.4 326.9,380.5 Z"/>
<path d="M335.4,379.5 Q345.9,355.6 347.3,329.5 Q333.2,352.5 335.4,379.5 Z"/>
<path d="M344.2,380.3 Q353.2,360.4 353.2,338.5 Q342.3,358.0 344.2,380.3 Z"/>
<path d="M349.8,382.9 Q357.8,353.3 351.9,323.2 Q344.1,352.8 349.8,382.9 Z"/>
<path d="M358.8,376.0 Q368.2,353.5 366.6,329.1 Q356.2,351.5 358.8,376.0 Z"/>
<path d="M365.8,384.5 Q379.9,364.8 381.3,340.6 Q367.5,360.4 365.8,384.5 Z"/>
<path d="M378.7,375.0 Q397.6,351.1 403.6,321.2 Q387.5,346.4 378.7,375.0 Z"/>
<path d="M382.5,388.1 Q399.1,366.3 396.8,339.0 Q385.0,362.2 382.5,388.1 Z"/>
<path d="M388.9,392.6 Q401.2,372.6 404.5,349.4 Q388.4,368.0 388.9,392.6 Z"/>
<path d="M400.9,386.4 Q418.5,365.1 424.9,338.2 Q409.0,360.3 400.9,386.4 Z"/>
<path d="M404.1,390.7 Q424.4,376.4 436.7,354.9 Q413.6,366.6 404.1,390.7 Z"/>
<path d="M410.7,399.1 Q429.7,373.3 440.6,343.1 Q417.8,366.9 410.7,399.1 Z"/>
<path d="M416.5,402.1 Q433.5,388.1 443.4,368.5 Q423.7,380.2 416.5,402.1 Z"/>
<path d="M426.8,402.9 Q449.0,391.8 464.3,372.3 Q439.5,380.2 426.8,402.9 Z"/>
<path d="M427.5,413.6 Q454.6,391.4 471.3,360.6 Q443.9,382.6 427.5,413.6 Z"/>
<path d="M436.5,418.6 Q461.8,406.9 478.7,384.6 Q455.5,399.0 436.5,418.6 Z"/>
<path d="M443.1,421.8 Q464.8,404.3 480.0,381.0 Q455.9,396.2 443.1,421.8 Z"/>
<path d="M451.6,427.4 Q474.4,423.8 487.9,405.1 Q467.1,411.8 451.6,427.4 Z"/>
<path d="M452.0,437.9 Q479.9,434.5 501.7,416.8 Q475.0,423.0 452.0,437.9 Z"/>
<path d="M458.0,442.0 Q491.4,433.3 519.3,412.9 Q485.5,420.8 458.0,442.0 Z"/>
<path d="M462.5,451.9 Q495.9,445.2 524.3,426.6 Q490.6,432.4 462.5,451.9 Z"/>
<path d="M459.4,461.6 Q480.5,452.4 495.0,434.4 Q473.0,442.5 459.4,461.6 Z"/>
<path d="M460.3,469.3 Q490.6,466.1 516.8,450.5 Q486.0,452.2 460.3,469.3 Z"/>
<path d="M468.7,474.7 Q498.7,477.3 526.8,466.6 Q497.0,465.4 468.7,474.7 Z"/>
<path d="M479.7,480.1 Q512.0,479.0 541.5,465.7 Q509.7,469.2 479.7,480.1 Z"/>
<path d="M463.3,490.8 Q489.9,486.9 514.5,476.2 Q486.9,476.3 463.3,490.8 Z"/>
<path d="M474.6,496.4 Q508.7,502.4 542.6,495.1 Q508.5,489.8 474.6,496.4 Z"/>
<path d="M481.3,506.8 Q511.7,511.3 541.1,502.8 Q511.0,500.9 481.3,506.8 Z"/>
<path d="M468.8,512.2 Q503.5,512.0 536.0,499.7 Q501.2,499.8 468.8,512.2 Z"/>
<path d="M484.9,521.8 Q506.7,528.5 528.5,522.1 Q506.8,516.4 484.9,521.8 Z"/>
<path d="M479.0,529.1 Q504.4,535.2 529.1,526.4 Q503.8,522.4 479.0,529.1 Z"/>
<path d="M470.3,536.2 Q492.1,541.1 513.0,533.3 Q491.4,530.9 470.3,536.2 Z"/>
<path d="M291.7,331.1 Q299.7,297.2 293.1,263.0 Q289.5,297.0 291.7,331.1 Z"/>
<path d="M299.7,336.2 Q306.3,302.4 303.0,268.1 Q293.9,301.8 299.7,336.2 Z"/>
<path d="M309.4,329.3 Q320.8,295.7 316.7,260.5 Q308.5,294.4 309.4,329.3 Z"/>
<path d="M318.4,330.7 Q317.7,307.5 309.3,285.9 Q305.6,310.0 318.4,330.7 Z"/>
<path d="M326.6,334.1 Q331.6,311.3 325.7,288.7 Q318.3,311.6 326.6,334.1 Z"/>
<path d="M335.5,327.7 Q351.5,303.7 351.1,275.0 Q339.4,300.2 335.5,327.7 Z"/>
<path d="M343.5,341.6 Q356.9,319.6 355.0,293.9 Q342.9,316.2 343.5,341.6 Z"/>
<path d="M351.5,331.0 Q362.9,307.8 360.4,282.1 Q350.3,305.5 351.5,331.0 Z"/>
<path d="M360.1,341.2 Q378.0,322.6 378.7,296.8 Q364.3,316.8 360.1,341.2 Z"/>
<path d="M365.3,341.8 Q375.3,321.9 377.5,299.7 Q363.7,318.5 365.3,341.8 Z"/>
<path d="M374.3,347.8 Q387.8,328.9 387.2,305.7 Q375.0,325.0 374.3,347.8 Z"/>
<path d="M382.1,347.5 Q400.4,325.2 404.8,296.7 Q389.7,320.4 382.1,347.5 Z"/>
<path d="M392.8,338.5 Q408.2,320.8 414.6,298.3 Q396.6,314.6 392.8,338.5 Z"/>
<path d="M402.3,342.2 Q421.1,324.2 425.0,298.5 Q410.6,318.7 402.3,342.2 Z"/>
<path d="M409.3,346.8 Q426.8,323.1 432.0,294.1 Q413.4,317.3 409.3,346.8 Z"/>
<path d="M409.9,362.0 Q430.5,335.4 442.2,303.8 Q421.4,330.3 409.9,362.0 Z"/>
<path d="M426.2,355.1 Q441.4,333.9 445.6,308.2 Q431.8,330.0 426.2,355.1 Z"/>
<path d="M430.8,359.1 Q446.4,338.6 453.2,313.6 Q434.4,332.6 430.8,359.1 Z"/>
<path d="M434.7,370.5 Q459.3,350.3 475.3,322.9 Q451.3,343.5 434.7,370.5 Z"/>
<path d="M450.0,368.3 Q478.2,348.0 499.3,320.4 Q469.7,339.3 450.0,368.3 Z"/>
<path d="M455.0,371.9 Q475.2,353.2 484.5,327.2 Q463.1,345.2 455.0,371.9 Z"/>
<path d="M454.4,385.8 Q474.5,367.7 484.4,342.5 Q464.7,360.9 454.4,385.8 Z"/>
<path d="M467.9,386.8 Q491.6,368.7 503.1,341.1 Q481.5,360.8 467.9,386.8 Z"/>
<path d="M461.8,404.2 Q485.2,393.3 500.1,372.2 Q477.1,383.6 461.8,404.2 Z"/>
<path d="M479.4,400.9 Q507.3,387.8 527.3,364.3 Q501.1,379.6 479.4,400.9 Z"/>
<path d="M481.3,405.5 Q501.8,393.1 510.2,370.6 Q490.7,383.9 481.3,405.5 Z"/>
<path d="M485.0,413.7 Q513.4,398.0 532.5,372.0 Q506.0,389.6 485.0,413.7 Z"/>
<path d="M486.2,424.9 Q518.7,419.9 546.5,402.4 Q514.6,409.0 486.2,424.9 Z"/>
<path d="M496.1,428.8 Q525.5,425.8 551.1,410.8 Q521.3,412.9 496.1,428.8 Z"/>
<path d="M503.1,436.5 Q535.0,435.8 561.4,418.1 Q530.7,422.5 503.1,436.5 Z"/>
<path d="M500.9,447.6 Q531.7,445.5 559.0,431.2 Q528.0,432.5 500.9,447.6 Z"/>
<path d="M507.3,451.7 Q530.7,447.1 549.0,431.9 Q524.3,433.6 507.3,451.7 Z"/>
<path d="M501.5,461.9 Q528.3,453.4 548.5,433.8 Q520.7,440.6 501.5,461.9 Z"/>
<path d="M513.2,466.6 Q542.6,456.9 567.1,438.0 Q537.5,447.3 513.2,466.6 Z"/>
<path d="M501.6,480.4 Q534.7,472.0 565.1,456.5 Q531.0,462.2 501.6,480.4 Z"/>
<path d="M514.0,484.6 Q545.0,478.5 573.0,463.9 Q541.3,468.0 514.0,484.6 Z"/>
<path d="M509.9,493.6 Q541.9,498.9 573.5,491.8 Q541.5,486.2 509.9,493.6 Z"/>
<path d="M523.0,500.7 Q557.1,505.7 589.6,494.5 Q556.0,494.1 523.0,500.7 Z"/>
<path d="M506.6,511.5 Q530.3,520.4 555.1,515.7 Q531.5,505.7 506.6,511.5 Z"/>
<path d="M511.5,519.6 Q539.4,527.3 567.9,522.6 Q540.2,512.3 511.5,519.6 Z"/>
<path d="M513.4,525.8 Q540.1,536.3 568.5,532.0 Q541.7,522.5 513.4,525.8 Z"/>
<path d="M512.1,534.6 Q533.4,546.1 557.6,546.5 Q536.3,535.1 512.1,534.6 Z"/>
<path d="M291.6,300.3 Q288.2,264.4 270.2,233.2 Q276.1,268.3 291.6,300.3 Z"/>
<path d="M295.7,288.0 Q290.6,254.9 274.3,225.5 Q277.3,259.4 295.7,288.0 Z"/>
<path d="M308.1,294.1 Q319.4,272.8 317.7,248.8 Q307.3,270.3 308.1,294.1 Z"/>
<path d="M317.0,287.4 Q326.2,262.9 327.5,236.7 Q314.3,260.4 317.0,287.4 Z"/>
<path d="M325.6,292.1 Q328.3,266.7 315.5,244.5 Q316.0,269.3 325.6,292.1 Z"/>
<path d="M331.7,301.6 Q338.7,276.2 332.1,250.8 Q327.2,276.2 331.7,301.6 Z"/>
<path d="M340.1,301.3 Q349.8,271.1 342.9,240.2 Q337.9,270.6 340.1,301.3 Z"/>
<path d="M350.0,304.1 Q360.9,275.4 362.8,244.9 Q349.3,272.9 350.0,304.1 Z"/>
<path d="M357.1,305.0 Q370.9,280.3 373.3,252.1 Q356.6,275.9 357.1,305.0 Z"/>
<path d="M366.6,299.1 Q373.7,274.3 369.8,248.8 Q361.1,273.5 366.6,299.1 Z"/>
<path d="M373.5,302.9 Q387.6,275.5 393.0,245.2 Q377.2,272.0 373.5,302.9 Z"/>
<path d="M386.2,296.4 Q401.9,271.4 410.7,243.3 Q391.3,266.6 386.2,296.4 Z"/>
<path d="M391.0,298.7 Q398.9,276.5 394.4,253.3 Q385.4,275.5 391.0,298.7 Z"/>
<path d="M398.3,313.3 Q406.6,284.6 407.8,254.8 Q395.7,282.8 398.3,313.3 Z"/>
<path d="M410.2,299.9 Q424.5,281.9 426.1,258.9 Q413.1,277.5 410.2,299.9 Z"/>
<path d="M415.6,313.7 Q430.4,284.5 438.7,252.9 Q419.5,280.3 415.6,313.7 Z"/>
<path d="M427.0,305.7 Q448.7,282.5 457.5,252.0 Q436.6,275.6 427.0,305.7 Z"/>
<path d="M427.7,320.2 Q439.8,296.3 440.3,269.5 Q427.0,293.1 427.7,320.2 Z"/>
<path d="M441.7,316.7 Q460.0,288.9 463.5,255.7 Q447.7,284.5 441.7,316.7 Z"/>
<path d="M445.7,330.1 Q463.1,305.6 466.8,275.9 Q451.4,301.1 445.7,330.1 Z"/>
<path d="M457.1,328.8 Q477.5,306.8 481.0,277.0 Q464.6,300.9 457.1,328.8 Z"/>
<path d="M455.6,343.1 Q475.5,328.6 485.1,305.8 Q466.7,321.6 455.6,343.1 Z"/>
<path d="M464.6,342.9 Q488.2,316.5 496.7,282.1 Q477.3,310.7 464.6,342.9 Z"/>
<path d="M472.8,344.8 Q498.9,322.9 517.1,294.1 Q489.2,314.5 472.8,344.8 Z"/>
<path d="M485.5,348.6 Q511.3,323.2 523.5,289.1 Q500.4,316.2 485.5,348.6 Z"/>
<path d="M481.9,361.0 Q511.7,344.2 535.6,319.8 Q503.9,334.0 481.9,361.0 Z"/>
<path d="M485.5,370.6 Q509.4,367.1 526.5,350.1 Q504.5,357.4 485.5,370.6 Z"/>
<path d="M500.9,368.4 Q523.9,355.5 536.5,332.3 Q514.2,345.9 500.9,368.4 Z"/>
<path d="M499.6,381.5 Q517.3,367.7 526.1,347.0 Q507.5,360.1 499.6,381.5 Z"/>
<path d="M509.2,383.3 Q531.2,373.9 547.7,356.5 Q524.8,364.6 509.2,383.3 Z"/>
<path d="M516.9,388.7 Q540.0,387.5 559.5,375.0 Q536.8,377.2 516.9,388.7 Z"/>
<path d="M520.6,395.8 Q548.4,391.6 569.5,373.0 Q542.7,379.5 520.6,395.8 Z"/>
<path d="M528.9,400.9 Q561.8,387.4 587.2,362.4 Q553.9,375.4 528.9,400.9 Z"/>
<path d="M528.0,411.8 Q561.2,401.9 585.9,377.5 Q554.8,391.0 528.0,411.8 Z"/>
<path d="M535.0,416.7 Q558.3,417.2 576.8,403.0 Q553.8,403.4 535.0,416.7 Z"/>
<path d="M537.2,427.3 Q560.7,415.8 578.4,396.4 Q554.5,407.5 537.2,427.3 Z"/>
<path d="M530.2,438.3 Q556.9,433.5 579.5,418.7 Q551.9,421.0 530.2,438.3 Z"/>
<path d="M536.3,443.9 Q564.2,447.6 590.0,436.5 Q562.8,437.4 536.3,443.9 Z"/>
<path d="M543.1,452.0 Q576.8,445.1 603.3,423.3 Q570.7,432.4 543.1,452.0 Z"/>
<path d="M539.3,461.5 Q573.0,453.2 600.6,431.9 Q567.0,440.6 539.3,461.5 Z"/>
<path d="M544.6,470.3 Q565.7,466.3 584.3,455.7 Q561.7,455.5 544.6,470.3 Z"/>
<path d="M549.4,477.6 Q582.0,476.0 613.4,467.2 Q580.1,464.3 549.4,477.6 Z"/>
<path d="M548.5,482.6 Q582.4,491.8 616.7,483.8 Q582.7,479.3 548.5,482.6 Z"/>
<path d="M549.9,492.7 Q573.6,500.9 598.5,497.6 Q575.1,486.4 549.9,492.7 Z"/>
<path d="M554.5,502.2 Q579.8,513.3 607.0,508.7 Q581.1,502.5 554.5,502.2 Z"/>
<path d="M549.4,508.4 Q580.0,504.8 607.7,491.2 Q576.0,491.0 549.4,508.4 Z"/>
<path d="M564.0,518.6 Q588.8,526.6 614.8,524.1 Q590.3,512.4 564.0,518.6 Z"/>
<path d="M554.9,527.1 Q589.5,527.6 623.1,519.7 Q588.3,517.3 554.9,527.1 Z"/>
<path d="M549.3,535.3 Q571.8,545.9 596.4,542.6 Q573.5,534.9 549.3,535.3 Z"/>
<path d="M562.8,543.4 Q593.6,547.3 623.7,540.2 Q592.9,534.3 562.8,543.4 Z"/>
<path d="M281.7,261.2 Q278.1,229.1 257.8,204.0 Q265.9,234.2 281.7,261.2 Z"/>
<path d="M287.4,255.1 Q289.1,226.5 282.7,198.5 Q278.9,227.3 287.4,255.1 Z"/>
<path d="M296.3,262.9 Q301.4,230.6 297.7,198.0 Q290.0,230.3 296.3,262.9 Z"/>
<path d="M304.7,260.1 Q315.4,232.1 316.4,202.1 Q301.2,229.2 304.7,260.1 Z"/>
<path d="M313.8,255.6 Q318.1,223.8 311.0,192.6 Q303.5,224.5 313.8,255.6 Z"/>
<path d="M322.9,255.8 Q334.1,226.8 331.9,195.8 Q320.9,224.8 322.9,255.8 Z"/>
<path d="M331.5,249.4 Q344.7,218.1 348.8,184.4 Q332.5,214.8 331.5,249.4 Z"/>
<path d="M341.5,251.3 Q348.8,228.0 342.1,204.6 Q337.6,227.9 341.5,251.3 Z"/>
<path d="M349.6,259.3 Q354.3,226.6 345.8,194.7 Q341.9,227.4 349.6,259.3 Z"/>
<path d="M357.8,252.9 Q370.0,233.2 365.2,210.5 Q356.6,230.9 357.8,252.9 Z"/>
<path d="M363.5,265.4 Q371.7,242.9 368.0,219.3 Q359.3,241.7 363.5,265.4 Z"/>
<path d="M372.3,265.7 Q386.5,235.8 386.1,202.8 Q372.3,232.7 372.3,265.7 Z"/>
<path d="M383.2,266.4 Q386.0,240.8 379.1,216.0 Q374.4,241.7 383.2,266.4 Z"/>
<path d="M391.3,265.9 Q399.6,236.9 391.8,207.8 Q386.7,236.8 391.3,265.9 Z"/>
<path d="M397.2,269.6 Q416.2,251.4 420.9,225.4 Q404.4,245.0 397.2,269.6 Z"/>
<path d="M406.2,268.0 Q424.3,246.9 437.1,222.1 Q415.2,240.7 406.2,268.0 Z"/>
<path d="M420.3,259.7 Q436.5,231.6 440.2,199.5 Q426.3,228.3 420.3,259.7 Z"/>
<path d="M426.2,263.9 Q437.4,241.8 440.4,217.1 Q427.2,238.7 426.2,263.9 Z"/>
<path d="M429.4,283.7 Q449.1,270.0 454.5,246.6 Q436.7,261.6 429.4,283.7 Z"/>
<path d="M440.7,277.4 Q457.6,258.0 460.3,232.4 Q447.3,253.5 440.7,277.4 Z"/>
<path d="M453.0,273.9 Q463.5,248.5 462.0,221.2 Q450.6,246.3 453.0,273.9 Z"/>
<path d="M455.9,289.9 Q476.8,278.9 487.4,257.8 Q467.2,269.4 455.9,289.9 Z"/>
<path d="M464.8,293.9 Q484.9,273.3 489.9,244.9 Q472.3,266.8 464.8,293.9 Z"/>
<path d="M467.5,300.5 Q481.2,277.5 485.8,251.1 Q469.3,273.1 467.5,300.5 Z"/>
<path d="M476.0,303.1 Q502.7,290.7 520.5,267.3 Q495.0,281.2 476.0,303.1 Z"/>
<path d="M486.2,308.6 Q506.2,294.5 519.8,274.2 Q498.8,287.3 486.2,308.6 Z"/>
<path d="M488.6,315.5 Q506.8,302.0 512.1,279.9 Q497.4,295.7 488.6,315.5 Z"/>
<path d="M499.0,319.3 Q523.0,309.2 541.9,291.2 Q517.1,300.2 499.0,319.3 Z"/>
<path d="M513.0,317.1 Q535.2,294.6 550.1,266.8 Q527.0,288.6 513.0,317.1 Z"/>
<path d="M509.3,329.6 Q535.9,308.9 555.7,281.6 Q526.0,299.3 509.3,329.6 Z"/>
<path d="M512.4,340.6 Q532.8,327.0 549.3,308.7 Q525.8,318.8 512.4,340.6 Z"/>
<path d="M525.4,339.6 Q549.9,327.4 569.7,308.4 Q543.8,318.7 525.4,339.6 Z"/>
<path d="M526.4,352.7 Q551.9,334.7 567.7,307.8 Q543.7,327.3 526.4,352.7 Z"/>
<path d="M542.1,349.2 Q563.9,333.2 578.7,310.6 Q555.8,325.5 542.1,349.2 Z"/>
<path d="M533.7,365.8 Q556.1,360.3 569.4,341.4 Q548.7,349.5 533.7,365.8 Z"/>
<path d="M551.2,367.9 Q575.0,355.5 587.1,331.5 Q564.6,345.2 551.2,367.9 Z"/>
<path d="M558.7,372.0 Q590.5,358.4 618.9,338.6 Q585.1,348.6 558.7,372.0 Z"/>
<path d="M549.1,387.1 Q573.8,375.6 591.3,354.7 Q566.6,366.2 549.1,387.1 Z"/>
<path d="M559.0,390.5 Q581.2,379.4 593.8,358.1 Q572.7,370.3 559.0,390.5 Z"/>
<path d="M562.0,398.5 Q583.3,387.9 596.0,367.7 Q575.2,378.9 562.0,398.5 Z"/>
<path d="M573.3,404.9 Q600.5,394.7 623.5,376.8 Q595.6,385.8 573.3,404.9 Z"/>
<path d="M564.0,415.7 Q591.1,411.7 613.8,396.4 Q586.6,400.1 564.0,415.7 Z"/>
<path d="M567.2,424.7 Q593.1,427.6 617.2,418.1 Q591.5,415.9 567.2,424.7 Z"/>
<path d="M573.2,431.2 Q604.8,430.6 631.5,413.8 Q601.2,418.8 573.2,431.2 Z"/>
<path d="M590.6,434.9 Q620.7,435.2 647.1,420.8 Q617.3,421.7 590.6,434.9 Z"/>
<path d="M580.6,447.5 Q608.3,452.5 635.4,444.5 Q607.5,438.4 580.6,447.5 Z"/>
<path d="M580.7,458.6 Q602.9,455.5 620.9,442.1 Q598.2,443.9 580.7,458.6 Z"/>
<path d="M583.8,466.9 Q607.4,469.1 630.2,462.8 Q606.4,458.0 583.8,466.9 Z"/>
<path d="M588.7,470.4 Q618.0,470.9 644.7,459.0 Q615.7,459.9 588.7,470.4 Z"/>
<path d="M593.9,480.8 Q623.7,490.4 654.8,487.6 Q625.2,476.3 593.9,480.8 Z"/>
<path d="M590.1,489.2 Q623.9,496.1 657.2,487.5 Q623.5,482.5 590.1,489.2 Z"/>
<path d="M588.2,500.7 Q621.3,504.7 653.1,494.9 Q620.1,491.6 588.2,500.7 Z"/>
<path d="M600.5,506.0 Q626.3,504.9 649.7,494.0 Q623.3,492.6 600.5,506.0 Z"/>
<path d="M596.2,514.8 Q620.3,509.9 642.3,498.9 Q616.8,499.8 596.2,514.8 Z"/>
<path d="M588.3,522.6 Q618.2,533.2 649.9,531.8 Q620.0,521.0 588.3,522.6 Z"/>
<path d="M603.3,531.9 Q637.0,533.6 669.6,525.1 Q635.9,523.4 603.3,531.9 Z"/>
<path d="M599.6,543.5 Q624.6,553.8 651.8,554.8 Q627.0,542.8 599.6,543.5 Z"/>
</g>
<!-- purple -->
<path d="M200.0,262.0 C205.7,256.7 208.8,251.8 214.0,246.0 C219.2,240.2 225.3,231.5 231.0,227.0 C236.7,222.5 242.8,221.8 248.0,219.0 C253.2,216.2 256.8,213.2 262.0,210.0 C267.2,206.8 273.3,203.0 279.0,200.0 C284.7,197.0 290.5,194.0 296.0,192.0 C301.5,190.0 304.7,188.9 312.0,188.0 C319.3,187.1 332.3,186.8 340.0,186.5 C347.7,186.2 353.7,185.8 358.0,186.0 C362.3,186.2 363.7,186.5 366.0,187.5 C368.3,188.5 369.8,189.9 372.0,192.0 C374.2,194.1 376.5,197.0 379.0,200.0 C381.5,203.0 384.2,205.7 387.0,210.0 C389.8,214.3 393.2,221.2 396.0,226.0 C398.8,230.8 401.4,234.8 403.5,239.0 C405.6,243.2 406.8,245.6 408.5,251.0 C410.2,256.4 412.4,264.5 413.8,271.5 C415.2,278.5 417.0,286.3 417.0,293.0 C417.0,299.7 415.9,305.8 413.8,311.5 C411.7,317.2 408.7,322.4 404.6,327.0 C400.5,331.6 394.6,336.0 389.0,339.0 C383.4,342.0 377.3,343.5 370.8,345.0 C364.3,346.5 357.6,346.3 350.0,348.0 C342.4,349.7 331.3,352.0 325.0,355.0 C318.7,358.0 316.2,362.3 312.0,366.0 C307.8,369.7 304.2,373.3 300.0,377.0 C295.8,380.7 292.5,382.8 287.0,388.0 C281.5,393.2 274.7,402.2 267.0,408.0 C259.3,413.8 248.8,419.7 241.0,423.0 C233.2,426.3 227.7,428.0 220.0,428.0 C212.3,428.0 201.2,425.3 195.0,423.0 C188.8,420.7 187.2,416.7 183.0,414.0 C178.8,411.3 173.8,409.2 170.0,406.7 C166.2,404.2 163.3,401.8 160.0,399.0 C156.7,396.2 153.2,393.0 150.0,390.0 C146.8,387.0 143.2,384.7 141.0,381.0 C138.8,377.3 137.4,373.5 136.7,368.0 C135.9,362.5 135.9,354.7 136.5,348.0 C137.1,341.3 138.2,334.7 140.0,328.0 C141.8,321.3 143.2,314.0 147.0,308.0 C150.8,302.0 157.5,297.0 163.0,292.0 C168.5,287.0 173.8,283.0 180.0,278.0 C186.2,273.0 194.3,267.3 200.0,262.0 Z" fill="#800080"/>
<path d="M231.0,227.0 C233.8,225.7 242.8,221.8 248.0,219.0 C253.2,216.2 256.8,213.2 262.0,210.0 C267.2,206.8 273.3,203.0 279.0,200.0 C284.7,197.0 290.5,194.0 296.0,192.0 C301.5,190.0 304.7,188.9 312.0,188.0 C319.3,187.1 332.3,186.8 340.0,186.5 C347.7,186.2 353.7,185.8 358.0,186.0 C362.3,186.2 363.7,186.5 366.0,187.5 C368.3,188.5 369.8,189.9 372.0,192.0 C374.2,194.1 376.5,197.0 379.0,200.0 C381.5,203.0 384.2,205.7 387.0,210.0 C389.8,214.3 393.2,221.2 396.0,226.0 C398.8,230.8 401.4,234.8 403.5,239.0 C405.6,243.2 406.8,245.6 408.5,251.0 C410.2,256.4 412.4,264.5 413.8,271.5 C415.2,278.5 417.0,286.3 417.0,293.0 C417.0,299.7 415.9,305.8 413.8,311.5 C411.7,317.2 408.7,322.4 404.6,327.0 C400.5,331.6 394.6,336.0 389.0,339.0 C383.4,342.0 377.3,343.5 370.8,345.0 C364.3,346.5 357.6,346.3 350.0,348.0 C342.4,349.7 331.3,352.0 325.0,355.0 C318.7,358.0 314.2,364.2 312.0,366.0" fill="none" stroke="#000" stroke-width="4.4" stroke-linecap="round" stroke-linejoin="round" />
<path d="M312.0,366.0 C310.0,367.8 304.2,373.3 300.0,377.0 C295.8,380.7 292.5,382.8 287.0,388.0 C281.5,393.2 274.7,402.2 267.0,408.0 C259.3,413.8 248.8,419.7 241.0,423.0 C233.2,426.3 227.7,428.0 220.0,428.0 C212.3,428.0 201.2,425.3 195.0,423.0 C188.8,420.7 187.2,416.7 183.0,414.0 C178.8,411.3 173.8,409.2 170.0,406.7 C166.2,404.2 163.3,401.8 160.0,399.0 C156.7,396.2 153.2,393.0 150.0,390.0 C146.8,387.0 143.2,384.7 141.0,381.0 C138.8,377.3 137.4,373.5 136.7,368.0 C135.9,362.5 135.9,354.7 136.5,348.0 C137.1,341.3 138.2,334.7 140.0,328.0 C141.8,321.3 145.8,311.3 147.0,308.0" fill="none" stroke="#000" stroke-width="4.6" stroke-linecap="round" stroke-linejoin="round" />
<path d="M147.0,308.0 C149.7,305.3 157.5,297.0 163.0,292.0 C168.5,287.0 173.8,283.0 180.0,278.0 C186.2,273.0 194.3,267.3 200.0,262.0 C205.7,256.7 208.8,251.8 214.0,246.0 C219.2,240.2 228.2,230.2 231.0,227.0" fill="none" stroke="#1e0c00" stroke-width="2.2" stroke-linecap="round" stroke-linejoin="round" />
<path d="M222.0,236.0 C223.5,234.5 228.0,229.3 231.0,227.0 C234.0,224.7 238.5,222.8 240.0,222.0" fill="none" stroke="#000" stroke-width="3.2" stroke-linecap="round" stroke-linejoin="round" />
<path d="M242.5,222.5 C243.3,226.2 245.4,237.9 247.5,245.0 C249.6,252.1 253.8,259.2 255.0,265.0 C256.2,270.8 256.7,276.2 255.0,280.0 C253.3,283.8 249.6,285.8 245.0,287.5 C240.4,289.2 232.8,288.4 227.5,290.0 C222.2,291.6 218.1,293.7 213.0,297.0 C207.9,300.3 202.8,305.1 196.7,310.0 C190.6,314.9 181.1,320.6 176.7,326.7 C172.2,332.8 170.6,340.0 170.0,346.7 C169.4,353.4 172.5,363.4 173.0,366.7" fill="none" stroke="#560056" stroke-width="3.1" stroke-linecap="round" stroke-linejoin="round" />
<path d="M200.0,270.0 C201.2,271.7 202.9,276.7 207.5,280.0 C212.1,283.3 224.2,288.3 227.5,290.0" fill="none" stroke="#560056" stroke-width="2.9" stroke-linecap="round" stroke-linejoin="round" />
<path d="M227.5,290.0 C229.6,289.3 235.8,287.7 240.0,286.0 C244.2,284.3 250.8,281.0 253.0,280.0" fill="none" stroke="#560056" stroke-width="2.9" stroke-linecap="round" stroke-linejoin="round" />
<path d="M317.5,230.0 C317.9,232.9 320.4,241.2 320.0,247.5 C319.6,253.8 316.7,261.7 315.0,267.5 C313.3,273.3 309.6,277.1 310.0,282.5 C310.4,287.9 318.3,293.8 317.5,300.0 C316.7,306.2 311.2,315.0 305.0,320.0 C298.8,325.0 285.0,325.0 280.0,330.0 C275.0,335.0 275.8,346.7 275.0,350.0" fill="none" stroke="#560056" stroke-width="3.1" stroke-linecap="round" stroke-linejoin="round" />
<path d="M365.0,205.0 C365.8,208.3 367.5,219.2 370.0,225.0 C372.5,230.8 378.3,237.5 380.0,240.0" fill="none" stroke="#560056" stroke-width="2.9" stroke-linecap="round" stroke-linejoin="round" />
<path d="M327.5,280.0 C330.4,282.5 338.8,291.7 345.0,295.0 C351.2,298.3 360.8,297.5 365.0,300.0 C369.2,302.5 369.2,308.3 370.0,310.0" fill="none" stroke="#560056" stroke-width="2.9" stroke-linecap="round" stroke-linejoin="round" />
<path d="M375.0,320.0 C377.5,315.8 384.2,300.8 390.0,295.0 C395.8,289.2 406.7,286.7 410.0,285.0" fill="none" stroke="#560056" stroke-width="2.9" stroke-linecap="round" stroke-linejoin="round" />
<path d="M222.0,293.0 C222.2,296.3 221.7,305.7 223.0,313.0 C224.3,320.3 228.3,331.1 230.0,336.7 C231.7,342.3 232.5,345.0 233.0,346.7" fill="none" stroke="#560056" stroke-width="2.9" stroke-linecap="round" stroke-linejoin="round" />
<path d="M210.0,376.7 C209.7,379.4 210.2,386.9 208.0,393.0 C205.8,399.1 198.6,409.7 196.7,413.0" fill="none" stroke="#560056" stroke-width="2.9" stroke-linecap="round" stroke-linejoin="round" />
<path d="M210.0,376.7 C213.3,377.8 224.5,380.8 230.0,383.0 C235.5,385.2 240.8,388.8 243.0,390.0" fill="none" stroke="#560056" stroke-width="2.9" stroke-linecap="round" stroke-linejoin="round" />
<path d="M253.0,373.0 C254.7,374.7 261.3,381.3 263.0,383.0" fill="none" stroke="#560056" stroke-width="2.9" stroke-linecap="round" stroke-linejoin="round" />
<path d="M143.0,340.0 C144.7,342.8 151.3,353.9 153.0,356.7" fill="none" stroke="#560056" stroke-width="2.6" stroke-linecap="round" stroke-linejoin="round" />
<path d="M280.0,356.7 C282.2,353.9 288.6,345.6 293.0,340.0 C297.4,334.4 304.4,325.8 306.7,323.0" fill="none" stroke="#560056" stroke-width="2.9" stroke-linecap="round" stroke-linejoin="round" />
<path d="M280.0,330.0 C283.3,332.5 296.7,342.5 300.0,345.0" fill="none" stroke="#560056" stroke-width="2.6" stroke-linecap="round" stroke-linejoin="round" />
<path d="M270.0,400.0 C271.7,398.4 277.1,399.3 280.0,396.0 C282.9,392.7 283.8,384.8 287.5,380.0 C291.2,375.2 297.1,371.2 302.5,367.5 C307.9,363.8 311.7,360.6 320.0,357.5 C328.3,354.4 347.1,349.8 352.5,349.0 C357.9,348.2 355.8,351.5 352.5,353.0 C349.2,354.5 337.9,356.3 332.5,358.0 C327.1,359.7 322.9,360.6 320.0,363.0 C317.1,365.4 315.4,368.0 315.0,372.5 C314.6,377.0 317.9,387.5 317.5,390.0 C317.1,392.5 314.2,389.0 312.5,387.5 C310.8,386.0 309.6,382.3 307.5,381.0 C305.4,379.7 302.1,378.7 300.0,379.5 C297.9,380.3 297.5,383.8 295.0,386.0 C292.5,388.2 287.3,389.8 285.0,392.5 C282.7,395.2 283.5,400.3 281.0,402.5 C278.5,404.7 271.8,405.9 270.0,405.5 C268.2,405.1 268.3,401.6 270.0,400.0 Z" fill="#000"/>
<path d="M187.0,37.5 C191.2,35.5 204.0,29.2 212.0,25.5 C220.0,21.8 228.7,18.0 235.0,15.5 C241.3,13.0 247.5,11.3 250.0,10.5" fill="none" stroke="#000" stroke-width="1.2" stroke-linecap="round" stroke-linejoin="round" />
<path d="M250.0,10.0 C252.7,9.8 260.7,8.9 266.0,8.6 C271.3,8.3 278.0,7.2 282.0,8.4 C286.0,9.6 285.8,14.0 290.0,16.0 C294.2,18.0 301.3,19.2 307.0,20.5 C312.7,21.8 321.2,23.4 324.0,24.0" fill="none" stroke="#000" stroke-width="1.2" stroke-linecap="round" stroke-linejoin="round" />
<path d="M324.0,24.0 C327.5,23.8 337.0,23.2 345.0,23.0 C353.0,22.8 365.8,21.7 372.0,22.5 C378.2,23.3 380.3,27.1 382.0,28.0" fill="none" stroke="#4a0000" stroke-width="1.3" stroke-linecap="round" stroke-linejoin="round" />
<path d="M41.5,138.0 C40.8,139.5 38.9,142.5 37.0,147.0 C35.1,151.5 31.2,162.0 30.0,165.0" fill="none" stroke="#000" stroke-width="1.6" stroke-linecap="round" stroke-linejoin="round" />
<path d="M7.0,300.0 C7.5,301.0 8.5,303.7 10.0,306.0 C11.5,308.3 14.0,311.7 16.0,314.0 C18.0,316.3 21.0,319.0 22.0,320.0" fill="none" stroke="#000" stroke-width="1.3" stroke-linecap="round" stroke-linejoin="round" />
<path d="M250.0,10.0 C250.3,9.2 251.2,6.7 252.0,5.0 C252.8,3.3 254.1,0.8 254.5,0.0" fill="none" stroke="#ff8000" stroke-width="1.4" stroke-linecap="round" stroke-linejoin="round" />
<path d="M277.0,197.5 C279.2,196.3 285.5,192.7 290.0,190.5 C294.5,188.3 301.7,185.5 304.0,184.5" fill="none" stroke="#fff" stroke-width="1.6" stroke-linecap="round" stroke-linejoin="round" />
<path d="M418.0,246.5 C419.0,246.0 423.0,244.0 424.0,243.5" fill="none" stroke="#fff" stroke-width="1.6" stroke-linecap="round" stroke-linejoin="round" />
<path d="M303.5,185.0 C303.8,182.5 304.8,175.0 305.5,170.0 C306.2,165.0 307.6,157.5 308.0,155.0" fill="none" stroke="#fff" stroke-width="1.2" stroke-linecap="round" stroke-linejoin="round" />
<path d="M372.0,343.0 C374.0,342.3 382.0,339.7 384.0,339.0" fill="none" stroke="#fff" stroke-width="1.4" stroke-linecap="round" stroke-linejoin="round" />
<!-- labels -->
<text class="b k" transform="translate(107.5,118)" font-size="31" textLength="98" lengthAdjust="spacingAndGlyphs">God</text>
<g transform="translate(61.2,221.7) rotate(-35)"><text class="b k2" x="-6" y="9.5" font-size="44" textLength="21" lengthAdjust="spacingAndGlyphs">J</text><text class="b" x="17.5" y="0" font-size="36" textLength="103.5" lengthAdjust="spacingAndGlyphs">esus</text></g>
<text class="s b" transform="translate(71.5,225.7)" font-size="29" textLength="160" lengthAdjust="spacingAndGlyphs">Holy Spirit</text>
<text class="b k2" transform="translate(25,274.5)" font-size="21" textLength="147" lengthAdjust="spacingAndGlyphs">Church</text>
<text class="b k" transform="translate(254,184) rotate(-86)" font-size="24.5" textLength="123" lengthAdjust="spacingAndGlyphs">Prayer</text>
<text transform="translate(291.4,158) rotate(-82.5) skewX(-11)" font-size="25.6" textLength="106" lengthAdjust="spacingAndGlyphs">Love</text>
<text class="b k" transform="translate(337.5,112.5) rotate(-47)" font-size="20" textLength="98" lengthAdjust="spacingAndGlyphs">Worship</text>
<text class="b k" transform="translate(358,110)" font-size="19.5" textLength="165" lengthAdjust="spacingAndGlyphs">Word of God</text>
<text class="b k" transform="translate(368.5,191) rotate(-40)" font-size="21.5" textLength="105" lengthAdjust="spacingAndGlyphs">Tithes</text>
<text class="s b" transform="translate(391.5,184)" font-size="21" textLength="116.5" lengthAdjust="spacingAndGlyphs">Thanksgiving</text>
<text class="b k" transform="translate(229.5,239.5)" font-size="21.5" textLength="165.5" lengthAdjust="spacingAndGlyphs">Je-Ho-Vah</text>
<text class="b" transform="translate(220,270)" font-size="19" textLength="147" lengthAdjust="spacingAndGlyphs">Fellowship</text>
<text class="b" transform="translate(252,313)" font-size="18" textLength="117" lengthAdjust="spacingAndGlyphs">Wisdom</text>
<text class="b" transform="translate(118,324)" font-size="14.5" textLength="176" lengthAdjust="spacingAndGlyphs">Meekness</text>
<text class="b" transform="translate(161,366)" font-size="22" textLength="117" lengthAdjust="spacingAndGlyphs">Humility</text>
<text class="b" transform="translate(462,238.5)" font-size="18" textLength="125" lengthAdjust="spacingAndGlyphs">Prosperity</text>
<text class="b k" transform="translate(425,276)" font-size="20.5" textLength="157" lengthAdjust="spacingAndGlyphs">Stewardship</text>
<text class="b" transform="translate(423,307)" font-size="20.5" textLength="119" lengthAdjust="spacingAndGlyphs">Blessings</text>
<text class="b k" transform="translate(371.5,434) rotate(-66.5)" font-size="21" textLength="97" lengthAdjust="spacingAndGlyphs">Praise</text>
<text class="b k2" transform="translate(412,410) rotate(-1)" font-size="37" textLength="125" lengthAdjust="spacingAndGlyphs">BibleStudy</text>
<text class="b k" transform="translate(380,451.5)" font-size="24.5" textLength="90" lengthAdjust="spacingAndGlyphs">Alter</text>
</svg>
</body>
</html>
